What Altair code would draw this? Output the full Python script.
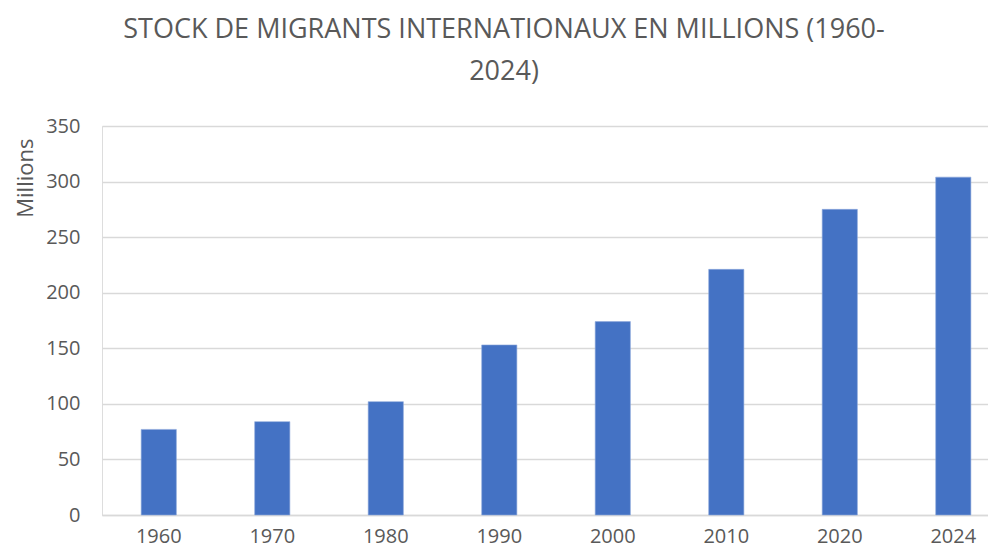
import altair as alt
import pandas as pd

years = ["1960", "1970", "1980", "1990", "2000", "2010", "2020", "2024"]
migrants = [77, 84, 102, 153, 174, 221, 275, 304]
y_ticks = [0, 50, 100, 150, 200, 250, 300, 350]

title_lines = ["STOCK DE MIGRANTS INTERNATIONAUX EN MILLIONS (1960-", "2024)"]
y_title = "Millions"

df = pd.DataFrame({"year": years, "value": migrants})

FONT = "Open Sans"
GREY = "#595959"

chart = (
    alt.Chart(df)
    .mark_bar(color="#4472C4", stroke="#8FAADC", strokeWidth=0.6)
    .encode(
        x=alt.X(
            "year:N",
            sort=years,
            scale=alt.Scale(paddingInner=0.69, paddingOuter=0.248, align=0.696),
            axis=alt.Axis(
                title=None,
                labelAngle=0,
                labelFont=FONT,
                labelFontSize=20,
                labelColor=GREY,
                labelPadding=11,
                ticks=False,
                domainColor="#D9D9D9",
                domainWidth=1.5,
                grid=False,
            ),
        ),
        y=alt.Y(
            "value:Q",
            scale=alt.Scale(domain=[0, 350], nice=False),
            axis=alt.Axis(
                values=y_ticks,
                title=y_title,
                titleFont=FONT,
                titleFontSize=22,
                titleFontWeight="normal",
                titleColor=GREY,
                titleAnchor="end",
                titleBaseline="bottom",
                titleX=-65,
                titleY=12,
                labelFont=FONT,
                labelFontSize=20,
                labelColor=GREY,
                labelPadding=22,
                ticks=False,
                domain=False,
                gridColor="#D9D9D9",
                gridWidth=1.5,
            ),
        ),
    )
    .properties(
        width=886,
        height=389,
        autosize=alt.AutoSizeParams(type="none"),
        padding={"left": 94, "top": 118, "right": 0, "bottom": 32},
        title=alt.TitleParams(
            text=title_lines,
            font=FONT,
            fontSize=27,
            fontWeight="normal",
            color=GREY,
            anchor="middle",
            dx=-41,
            offset=30,
            lineHeight=42,
        ),
    )
    .configure_view(stroke=None)
    .configure(background="white")
)

chart.save("out.html", embed_options={"renderer": "svg", "actions": False})
